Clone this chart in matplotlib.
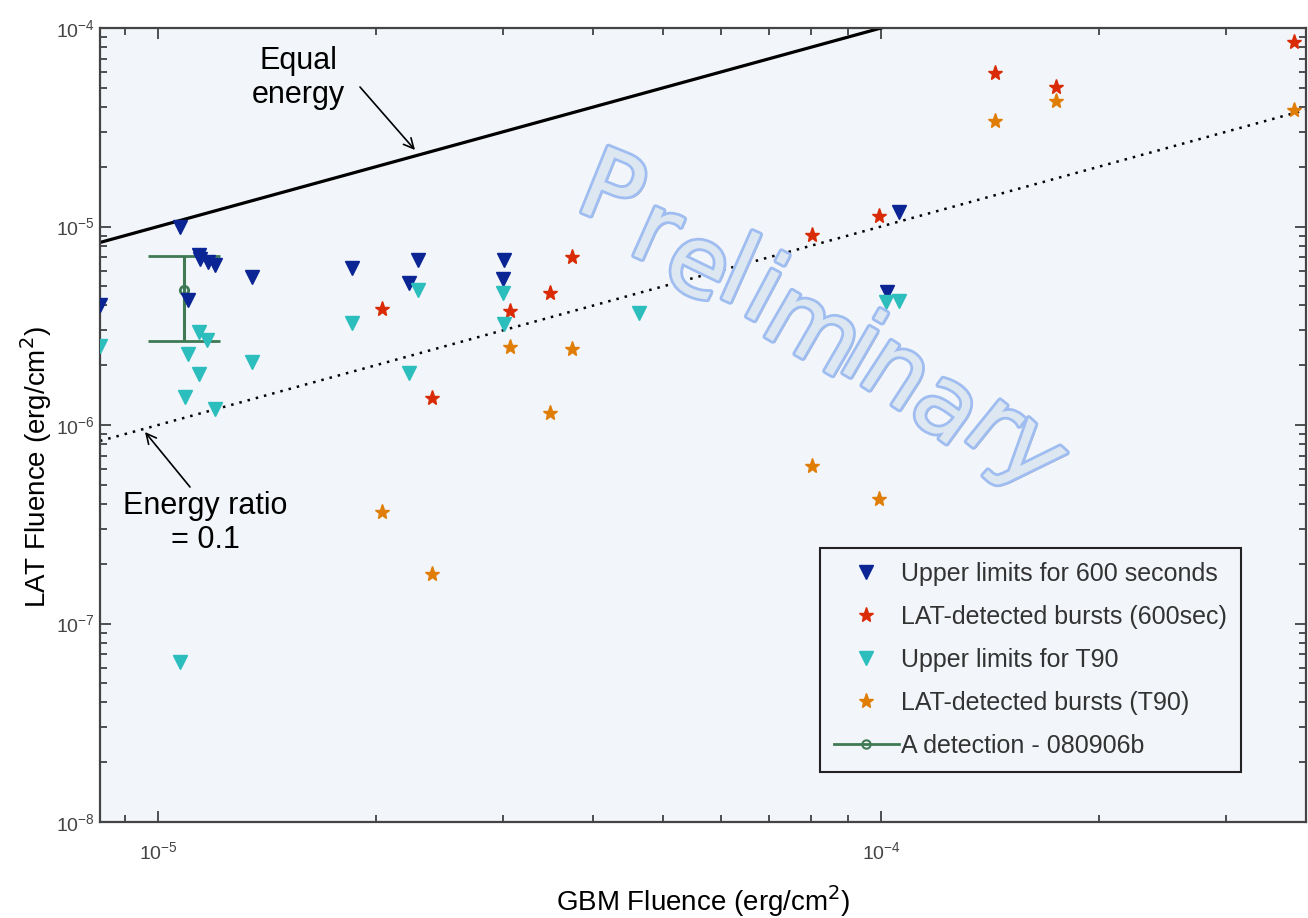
import matplotlib

matplotlib.use("Agg")
import matplotlib.pyplot as plt
import matplotlib.patheffects as pe
from matplotlib.lines import Line2D
from matplotlib.ticker import LogLocator, NullFormatter

plt.rcParams["font.family"] = ["Liberation Sans", "DejaVu Sans"]

# GBM fluence vs LAT fluence, erg/cm^2
ul600_gbm = [8.31e-6, 1.072e-5, 1.10e-5, 1.14e-5, 1.143e-5, 1.172e-5, 1.199e-5, 1.349e-5,
             1.854e-5, 2.225e-5, 2.289e-5, 3.00e-5, 3.01e-5, 1.019e-4, 1.059e-4]
ul600_lat = [4.02e-6, 9.94e-6, 4.26e-6, 7.19e-6, 6.86e-6, 6.63e-6, 6.40e-6, 5.57e-6,
             6.18e-6, 5.19e-6, 6.78e-6, 5.44e-6, 6.78e-6, 4.68e-6, 1.18e-5]

det600_gbm = [2.04e-5, 2.39e-5, 3.07e-5, 3.48e-5, 3.74e-5, 8.03e-5, 9.94e-5, 1.438e-4, 1.746e-4, 3.72e-4]
det600_lat = [3.84e-6, 1.37e-6, 3.75e-6, 4.62e-6, 7.02e-6, 9.06e-6, 1.13e-5, 5.93e-5, 5.05e-5, 8.50e-5]

ult90_gbm = [8.31e-6, 1.09e-5, 1.10e-5, 1.14e-5, 1.14e-5, 1.169e-5, 1.199e-5, 1.349e-5, 1.854e-5,
             2.225e-5, 2.289e-5, 3.00e-5, 3.01e-5, 4.63e-5, 1.016e-4, 1.059e-4, 1.072e-5]
ult90_lat = [2.50e-6, 1.38e-6, 2.28e-6, 1.81e-6, 2.94e-6, 2.68e-6, 1.20e-6, 2.07e-6, 3.27e-6,
             1.83e-6, 4.79e-6, 4.62e-6, 3.23e-6, 3.66e-6, 4.17e-6, 4.22e-6, 6.40e-8]

dett90_gbm = [2.04e-5, 2.39e-5, 3.07e-5, 3.48e-5, 3.74e-5, 8.03e-5, 9.94e-5, 1.438e-4, 1.746e-4, 3.72e-4]
dett90_lat = [3.65e-7, 1.77e-7, 2.47e-6, 1.15e-6, 2.42e-6, 6.22e-7, 4.24e-7, 3.40e-5, 4.29e-5, 3.86e-5]

# 080906b detection with its range
det_gbm = 1.086e-5
det_lat = 4.79e-6
det_lo = 2.65e-6
det_hi = 7.10e-6

xlim = (8.31e-6, 3.87e-4)
ylim = (1e-8, 1e-4)

W, H = 1308, 918
fig = plt.figure(figsize=(W / 100, H / 100), dpi=100)
ax = fig.add_axes([100 / W, 1 - 822 / H, 1206 / W, 794 / H])
ax.set_facecolor("#f2f5fa")
ax.set_xscale("log")
ax.set_yscale("log")
ax.set_xlim(*xlim)
ax.set_ylim(*ylim)

# reference lines
ax.plot(xlim, xlim, color="black", lw=2.3, zorder=2)
ax.plot(xlim, [0.1 * v for v in xlim], color="black", lw=1.8, dashes=(1, 2.4), zorder=2)


def fig_xy(px, py):
    return px / W, 1 - py / H


# watermark, laid out letter by letter along an arc
wm_letters = "Preliminary"
wm_px = [610, 655, 697, 737, 763, 812, 860, 895, 945, 992, 1030]
wm_py = [195, 236, 268, 276, 295, 333, 352, 375, 410, 428, 455]
wm_rot = [-22, -24, -26, -24, -28, -30, -30, -33, -36, -39, -42]
for ch, px, py, rot in zip(wm_letters, wm_px, wm_py, wm_rot):
    fig.text(*fig_xy(px, py), ch, fontsize=70, family="DejaVu Sans", color="#dde7f2",
             ha="center", va="center", rotation=rot, rotation_mode="anchor", zorder=1,
             path_effects=[pe.SimplePatchShadow(offset=(1.5, -1.5), shadow_rgbFace="#7a8290", alpha=0.7),
                           pe.Stroke(linewidth=4, foreground="#9fbdf0"), pe.Normal()])

ms = 10
ax.plot(ul600_gbm, ul600_lat, "v", color="#0b2595", ms=ms, zorder=4,
        label="Upper limits for 600 seconds")
ax.plot(det600_gbm, det600_lat, "*", color="#d92b05", ms=ms + 1, zorder=4,
        label="LAT-detected bursts (600sec)")
ax.plot(ult90_gbm, ult90_lat, "v", color="#2cbdbd", ms=ms, zorder=4,
        label="Upper limits for T90")
ax.plot(dett90_gbm, dett90_lat, "*", color="#e07d05", ms=ms + 1, zorder=4,
        label="LAT-detected bursts (T90)")
ax.errorbar([det_gbm], [det_lat], yerr=[[det_lat - det_lo], [det_hi - det_lat]], fmt="o",
            color="#3f7a55", mfc="none", ms=6, mew=2, elinewidth=2.2, capsize=26, capthick=2.2,
            zorder=3)

handles, labels = ax.get_legend_handles_labels()
handles.append(Line2D([], [], color="#3f7a55", lw=2, marker="o", mfc="none", ms=6, mew=1.5))
labels.append("A detection - 080906b")
leg = ax.legend(handles, labels, loc="upper left", bbox_to_anchor=fig_xy(820, 548),
                bbox_transform=fig.transFigure, fontsize=18, frameon=True, fancybox=False,
                handlelength=2.6, handletextpad=0.1, labelspacing=0.76, borderpad=0.55,
                borderaxespad=0)
leg.get_frame().set_edgecolor("#222222")
leg.get_frame().set_linewidth(1.5)
leg.get_frame().set_facecolor("#f2f5fa")
leg.get_frame().set_alpha(1)
for t in leg.get_texts():
    t.set_color("#333333")

# annotations
fig.text(*fig_xy(298, 78), "Equal\nenergy", ha="center", va="center", fontsize=22, linespacing=1.2)
ax.annotate("", xy=fig_xy(415, 150), xycoords="figure fraction",
            xytext=fig_xy(360, 87), textcoords="figure fraction",
            arrowprops=dict(arrowstyle="->", color="black", lw=1.2, shrinkA=0, shrinkB=0,
                            mutation_scale=18))
fig.text(*fig_xy(205, 523), "Energy ratio\n= 0.1", ha="center", va="center", fontsize=22,
         linespacing=1.2)
ax.annotate("", xy=fig_xy(145, 432), xycoords="figure fraction",
            xytext=fig_xy(190, 487), textcoords="figure fraction",
            arrowprops=dict(arrowstyle="->", color="black", lw=1.2, shrinkA=0, shrinkB=0,
                            mutation_scale=18))

ax.set_xlabel("GBM Fluence (erg/cm$^2$)", fontsize=20, labelpad=14)
ax.set_ylabel("LAT Fluence (erg/cm$^2$)", fontsize=20)
ax.yaxis.set_label_coords(-0.038, 0.447)

ax.xaxis.set_major_locator(LogLocator(base=10))
ax.xaxis.set_minor_locator(LogLocator(base=10, subs=range(2, 10)))
ax.xaxis.set_minor_formatter(NullFormatter())
ax.yaxis.set_minor_formatter(NullFormatter())
ax.tick_params(which="both", direction="in", top=True, right=True, colors="#333333",
               labelcolor="#444444", labelsize=14)
ax.tick_params(which="major", length=8, width=1.2)
ax.tick_params(which="minor", length=5, width=1.2)
ax.tick_params(axis="x", pad=14)
for sp in ax.spines.values():
    sp.set_color("#444444")
    sp.set_linewidth(1.6)

fig.savefig("out.png", dpi=100)
